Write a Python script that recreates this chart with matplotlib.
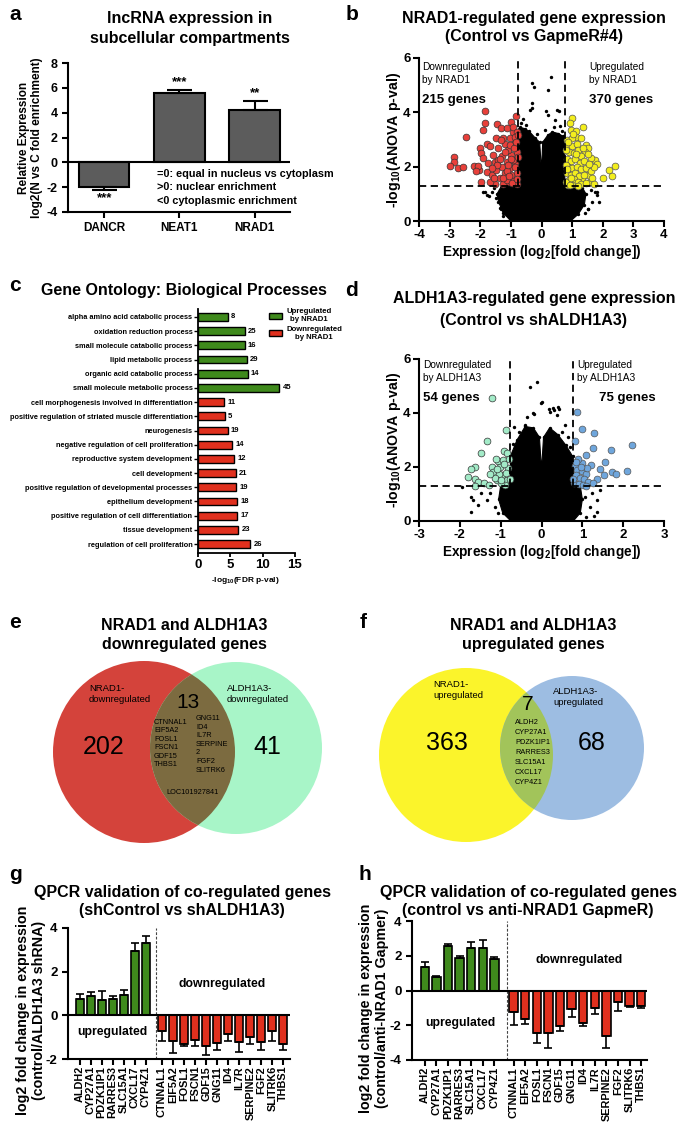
import matplotlib
matplotlib.use('Agg')
import matplotlib.pyplot as plt
from matplotlib.patches import Circle, Patch
import numpy as np

plt.rcParams['font.family'] = ['Liberation Sans', 'DejaVu Sans']
plt.rcParams['mathtext.fontset'] = 'custom'
plt.rcParams['mathtext.rm'] = 'Liberation Sans:bold'
plt.rcParams['mathtext.bf'] = 'Liberation Sans:bold'
plt.rcParams['mathtext.default'] = 'rm'

# ---------------- DATA ----------------
# panel a
a_genes = ['DANCR', 'NEAT1', 'NRAD1']
a_vals = [-2.0, 5.6, 4.25]
a_err = [0.22, 0.25, 0.7]
a_stars = ['***', '***', '**']

# panel b (NRAD1 volcano)
b_down_x = [-1.85, -1.85, -1.90, -2.48, -2.86, -2.86, -2.99, -2.72, -2.55, -2.19, -2.01, -1.96, -1.90, -2.04,
            -1.96, -1.79, -1.68, -1.44, -1.32, -1.14, -0.98, -0.84, -0.92, -1.25, -1.47, -1.74, -1.79, -1.63,
            -2.07, -2.15, -1.52, -1.41, -1.28, -1.19, -1.03, -0.87, -0.81, -0.98, -1.14, -1.30, -1.47, -1.36,
            -1.19, -1.03, -0.87, -0.81, -0.92, -1.08, -1.25, -1.52, -1.68, -0.81, -0.98, -1.14, -1.41, -1.58,
            -1.32, -0.92, -0.79, -1.08, -0.92, -1.25, -1.44, -1.61, -1.03, -0.87, -0.77, -0.85, -1.00, -1.12,
            -0.95, -0.80, -1.20, -1.35, -0.90, -1.05, -0.83, -1.10, -1.55, -0.78]
b_down_y = [4.05, 3.60, 3.35, 3.10, 2.34, 2.18, 2.02, 1.96, 2.00, 2.02, 2.67, 2.49, 2.31, 1.88,
            1.42, 2.82, 2.76, 3.56, 3.41, 3.41, 3.66, 3.88, 3.29, 3.04, 3.04, 2.12, 1.82, 1.69,
            2.04, 1.84, 2.18, 2.67, 2.40, 2.82, 3.07, 2.86, 2.55, 2.43, 2.18, 2.00, 1.88, 1.57,
            1.75, 1.94, 2.12, 1.75, 1.51, 1.42, 1.35, 1.35, 1.42, 1.35, 1.69, 1.51, 2.25, 2.43,
            2.98, 3.47, 3.29, 2.61, 2.25, 1.60, 2.06, 1.94, 2.80, 3.10, 2.37, 2.00, 2.30, 1.85,
            1.40, 1.55, 2.55, 2.30, 2.70, 1.65, 2.90, 2.05, 1.60, 3.15]
b_up_x = [0.99, 0.93, 1.37, 0.96, 1.13, 1.28, 0.82, 1.45, 1.53, 1.42, 1.75, 1.81, 1.61, 2.40, 2.21, 2.29,
          2.00, 1.59, 1.51, 0.86, 1.04, 1.31, 0.85, 1.00, 1.15, 0.90, 1.05, 1.20, 1.30, 0.82, 0.95, 1.10,
          1.25, 1.40, 0.88, 1.00, 1.15, 1.30, 1.45, 0.82, 0.95, 1.10, 1.22, 1.38, 0.90, 1.05, 1.18, 1.30,
          1.45, 0.80, 1.60, 1.70, 1.55, 1.65, 1.12, 0.80, 1.35, 1.52, 0.98, 1.20, 0.92, 1.70, 0.80, 0.88,
          1.02, 1.12, 0.84, 0.96]
b_up_y = [3.80, 3.60, 3.45, 3.35, 3.10, 3.07, 3.00, 2.80, 2.70, 2.55, 2.25, 2.09, 2.31, 2.02, 1.88, 1.66,
          1.57, 1.42, 1.69, 1.33, 1.35, 1.51, 2.80, 2.75, 2.85, 2.55, 2.50, 2.60, 2.40, 2.30, 2.20, 2.30,
          2.15, 2.20, 2.00, 1.95, 2.00, 1.90, 1.95, 1.75, 1.70, 1.75, 1.65, 1.70, 1.50, 1.55, 1.45, 1.35,
          1.40, 1.45, 1.85, 2.00, 2.10, 1.60, 3.30, 2.05, 2.70, 2.45, 3.05, 1.30, 1.32, 1.35, 2.60, 2.90,
          3.20, 2.45, 1.90, 1.60]
b_bg_x = [-0.30, -0.25, 0.32, 0.21, -0.30, -0.30, -0.38, 0.14, 0.52, 0.57, 0.22, -1.86, -1.72, -1.34,
          1.82, 1.87, 1.51, -1.90, -1.79, -1.32, -1.63, 1.75, 1.81, 1.64, 1.53, 1.42, 1.31, 1.20, -1.41,
          -1.25, -1.55, -1.48, 1.60, -0.60, -0.66, 0.45, 0.62, -0.50, -0.15, 0.10, 0.40, 0.68, -0.72]
b_bg_y = [5.08, 4.93, 5.29, 4.83, 4.34, 4.16, 4.09, 4.05, 4.09, 4.05, 3.90, 1.05, 0.92, 0.47,
          1.08, 0.71, 0.43, 1.06, 0.96, 0.44, 1.08, 1.08, 0.96, 0.71, 0.44, 0.28, 1.20, 0.53, 0.71,
          0.20, 1.20, 0.85, 1.15, 3.75, 3.60, 3.70, 3.50, 3.55, 3.20, 3.35, 3.45, 3.30, 3.40]
# envelope of the dense black cloud of non-significant genes (panel b)
b_cloud_x = [-1.00, -1.25, -1.40, -1.45, -1.30, -0.76, -0.76, -0.70, -0.55, -0.40, -0.20, -0.06, 0.00,
             0.04, 0.20, 0.35, 0.55, 0.70, 0.76, 0.76, 1.30, 1.45, 1.40, 1.20, 0.95]
b_cloud_y = [0.00, 0.30, 0.70, 1.00, 1.30, 1.30, 3.20, 3.45, 3.40, 3.30, 3.05, 2.90, 1.85,
             2.90, 3.15, 3.28, 3.22, 3.12, 3.00, 1.30, 1.30, 1.00, 0.60, 0.25, 0.00]

# panel c (gene ontology)
c_terms = ['alpha amino acid catabolic process', 'oxidation reduction process',
           'small molecule catabolic process', 'lipid metabolic process',
           'organic acid catabolic process', 'small molecule metabolic process',
           'cell morphogenesis involved in differentiation',
           'positive regulation of striated muscle differentiation', 'neurogenesis',
           'negative regulation of cell proliferation', 'reproductive system development',
           'cell development', 'positive regulation of developmental processes',
           'epithelium development', 'positive regulation of cell differentiation',
           'tissue development', 'regulation of cell proliferation']
c_vals = [4.6, 7.2, 7.2, 7.5, 7.7, 12.6, 4.0, 4.1, 4.6, 5.3, 5.6, 5.8, 5.9, 6.1, 6.1, 6.2, 8.1]
c_counts = [8, 25, 16, 29, 14, 45, 11, 5, 19, 14, 12, 21, 19, 18, 17, 23, 26]
c_dir = ['up'] * 6 + ['down'] * 11

# panel d (ALDH1A3 volcano)
d_down_x = [-1.21, -0.88, -1.33, -1.49, -1.07, -0.92, -0.85, -1.63, -1.73, -1.79, -1.64, -1.55, -1.64, -1.42,
            -1.29, -1.22, -1.18, -1.02, -0.96, -0.85, -0.81, -1.10, -0.89, -1.05, -1.15, -0.95, -0.80,
            -1.12, -0.98, -0.86, -1.25, -0.92, -1.00, -0.78, -1.08]
d_down_y = [4.56, 3.37, 2.96, 2.53, 2.22, 2.60, 2.50, 2.01, 1.91, 1.64, 1.56, 1.46, 1.30, 1.42,
            1.33, 2.01, 1.83, 2.01, 1.70, 1.52, 1.95, 1.52, 1.33, 1.75, 1.60, 2.25, 2.30,
            2.30, 1.40, 1.78, 1.75, 2.10, 1.50, 1.55, 1.92]
d_up_x = [0.88, 0.98, 1.29, 0.82, 1.27, 1.70, 2.21, 1.09, 1.55, 1.43, 1.72, 1.82, 2.09, 1.54, 1.35, 1.20,
          0.98, 0.90, 0.82, 0.88, 1.00, 1.10, 0.85, 0.95, 1.05, 1.15, 0.80, 0.92, 1.02, 1.12, 0.84, 0.96,
          1.25, 1.08, 0.78]
d_up_y = [4.05, 3.40, 3.27, 2.96, 2.69, 2.63, 2.81, 2.44, 2.20, 1.93, 1.83, 1.74, 1.86, 1.70, 1.56, 2.07,
          2.14, 2.28, 2.05, 1.90, 1.85, 1.75, 1.70, 1.60, 1.55, 1.45, 1.40, 1.38, 1.35, 1.95, 2.20, 2.00,
          1.40, 1.30, 1.55]
d_bg_x = [-0.11, -0.29, 0.00, 0.18, 0.30, 0.42, -0.19, -0.35, -0.68, -0.22, -0.01, 0.21, 0.29, 0.41,
          0.37, -0.40, 0.66, 0.58, -1.94, -1.73, -1.67, -1.73, -1.47, -1.34, -1.14, -1.06, 1.23, 1.35,
          1.35, 1.19, 1.10, 1.07, 1.43, 1.28, -1.55, -1.25, -0.55, 0.50, -0.70, 0.70]
d_bg_y = [5.14, 4.98, 4.40, 4.16, 4.10, 4.16, 3.97, 3.85, 3.48, 3.99, 4.36, 4.05, 4.17, 4.21,
          3.93, 3.56, 3.12, 3.56, 1.27, 0.90, 0.78, 0.35, 1.02, 0.78, 0.53, 0.28, 1.02, 0.78,
          0.35, 0.53, 0.16, 0.90, 1.15, 0.20, 0.60, 1.05, 3.30, 3.30, 2.85, 2.75]
d_cloud_x = [-0.75, -0.95, -1.05, -1.00, -0.76, -0.76, -0.60, -0.40, -0.20, -0.05, 0.00, 0.05, 0.20,
             0.40, 0.60, 0.76, 0.76, 0.95, 1.00, 0.95, 0.78]
d_cloud_y = [0.00, 0.30, 0.80, 1.30, 1.30, 2.40, 3.00, 3.50, 3.45, 3.10, 1.90, 3.10, 3.45,
             3.20, 2.80, 2.40, 1.30, 1.30, 0.80, 0.30, 0.00]

# panel e / f venn counts
e_counts = [202, 13, 41]
e_labels = ['NRAD1-\ndownregulated', 'ALDH1A3-\ndownregulated']
e_genes_left = ['CTNNAL1', 'EIF5A2', 'FOSL1', 'FSCN1', 'GDF15', 'THBS1']
e_genes_right = ['GNG11', 'ID4', 'IL7R', 'SERPINE', '2', 'FGF2', 'SLITRK6']
e_gene_extra = 'LOC101927841'
f_counts = [363, 7, 68]
f_labels = ['NRAD1-\nupregulated', 'ALDH1A3-\nupregulated']
f_genes = ['ALDH2', 'CYP27A1', 'PDZK1IP1', 'RARRES3', 'SLC15A1', 'CXCL17', 'CYP4Z1']

# panels g / h (QPCR)
up_genes = ['ALDH2', 'CYP27A1', 'PDZK1IP1', 'RARRES3', 'SLC15A1', 'CXCL17', 'CYP4Z1']
down_genes = ['CTNNAL1', 'EIF5A2', 'FOSL1', 'FSCN1', 'GDF15', 'GNG11', 'ID4', 'IL7R',
              'SERPINE2', 'FGF2', 'SLITRK6', 'THBS1']
g_up = [0.75, 0.90, 0.72, 0.75, 0.93, 2.95, 3.31]
g_up_err = [0.23, 0.17, 0.41, 0.12, 0.25, 0.36, 0.31]
g_down = [-0.70, -1.19, -1.30, -1.15, -1.42, -1.27, -0.84, -1.24, -1.00, -1.24, -0.73, -1.31]
g_down_err = [0.49, 0.54, 0.12, 0.27, 0.38, 0.30, 0.35, 0.44, 0.30, 0.33, 0.46, 0.26]
h_up = [1.35, 0.77, 2.58, 1.88, 2.44, 2.44, 1.79]
h_up_err = [0.28, 0.06, 0.11, 0.12, 0.33, 0.48, 0.13]
h_down = [-1.25, -1.63, -2.44, -2.44, -2.06, -1.06, -1.87, -1.02, -2.63, -0.67, -0.87, -0.90]
h_down_err = [0.73, 0.29, 0.60, 0.87, 0.29, 0.48, 0.15, 0.33, 0.68, 0.52, 0.09, 0.10]

# ---------------- STYLE ----------------
W, H = 685, 1125
fig = plt.figure(figsize=(6.85, 11.25), dpi=100)
GREEN = '#3f8a1c'
RED = '#e0301e'
TFS = 11.5  # title font size


def rect(l, t, r, b):
    return [l / W, 1 - b / H, (r - l) / W, (b - t) / H]


def T(x, y, s, **kw):
    kw.setdefault('ha', 'center')
    kw.setdefault('va', 'center')
    return fig.text(x / W, 1 - y / H, s, **kw)


def style(ax, lw=1.5, length=4):
    for s in ['top', 'right']:
        ax.spines[s].set_visible(False)
    for s in ['left', 'bottom']:
        ax.spines[s].set_linewidth(lw)
    ax.tick_params(width=lw, length=length, direction='out')


# overlay axes for the venn diagrams
ov = fig.add_axes([0, 0, 1, 1])
ov.set_xlim(0, W)
ov.set_ylim(H, 0)
ov.axis('off')

# ---------------- PANEL A ----------------
T(15, 14, 'a', fontsize=15, fontweight='bold')
T(190, 18, 'lncRNA expression in', fontsize=TFS, fontweight='bold')
T(190, 38, 'subcellular compartments', fontsize=TFS, fontweight='bold')
ax = fig.add_axes(rect(68, 63, 290, 212))
xa = np.arange(len(a_genes))
ax.bar(xa, a_vals, width=0.67, color='#5c5c5c', edgecolor='black', lw=1.5, zorder=2)
lo = [e if v < 0 else 0 for v, e in zip(a_vals, a_err)]
hi = [e if v >= 0 else 0 for v, e in zip(a_vals, a_err)]
ax.errorbar(xa, a_vals, yerr=[lo, hi], fmt='none', ecolor='black', elinewidth=1.5, capsize=9,
            capthick=1.5, zorder=3)
ax.axhline(0, color='black', lw=1.5, zorder=4)
ax.set_xlim(-0.48, 2.47)
ax.set_ylim(-4, 8)
style(ax)
ax.set_yticks(range(-4, 9, 2), [str(v) for v in range(-4, 9, 2)], fontsize=9, fontweight='bold')
ax.set_xticks(xa, a_genes, fontsize=8.5, fontweight='bold')
for i, (v, e, s) in enumerate(zip(a_vals, a_err, a_stars)):
    if v >= 0:
        ax.text(i, v + e + 0.15, s, ha='center', va='bottom', fontsize=9.5, fontweight='bold')
    else:
        ax.text(i, v - e - 0.2, s, ha='center', va='top', fontsize=9.5, fontweight='bold')
T(24, 138, 'Relative Expression', rotation=90, fontsize=8.5, fontweight='bold')
T(37, 138, 'log2(N vs C fold enrichment)', rotation=90, fontsize=8.5, fontweight='bold')
T(157, 174, '=0: equal in nucleus vs cytoplasm', ha='left', fontsize=7.8, fontweight='bold')
T(157, 187.5, '>0: nuclear enrichment', ha='left', fontsize=7.8, fontweight='bold')
T(157, 201, '<0 cytoplasmic enrichment', ha='left', fontsize=7.8, fontweight='bold')


# ---------------- VOLCANO helper ----------------
def volcano(ax, cx, cy, bgx, bgy, dx, dy, ux, uy, dcol, ucol, xlim, xt):
    ax.fill(cx, cy, color='black', lw=0.8, ec='black', zorder=2)
    ax.scatter(bgx, bgy, s=6, color='black', lw=0, zorder=2)
    ax.scatter(cx, cy, s=6, color='black', lw=0, zorder=2)
    ax.scatter(dx, dy, s=24, color=dcol, edgecolor='#333333', lw=0.5, zorder=3)
    ax.scatter(ux, uy, s=24, color=ucol, edgecolor='#555555', lw=0.5, zorder=3)
    ax.axvline(-0.76, color='black', lw=1.3, ls=(0, (4, 2.5)), zorder=4)
    ax.axvline(0.76, color='black', lw=1.3, ls=(0, (4, 2.5)), zorder=4)
    ax.axhline(1.3, color='black', lw=1.3, ls=(0, (4, 2.5)), zorder=4)
    ax.set_xlim(*xlim)
    ax.set_ylim(0, 6)
    style(ax)
    ax.set_xticks(xt, [str(v) for v in xt], fontsize=9.5, fontweight='bold')
    ax.set_yticks([0, 2, 4, 6], ['0', '2', '4', '6'], fontsize=9.5, fontweight='bold')
    ax.tick_params(pad=2)
    ax.set_xlabel('Expression (log$_{2}$[fold change])', fontsize=9.8, fontweight='bold', labelpad=1)
    ax.set_ylabel('-log$_{10}$(ANOVA p-val)', fontsize=10.2, fontweight='bold', labelpad=0)


# ---------------- PANEL B ----------------
T(352, 15, 'b', fontsize=15, fontweight='bold')
T(534, 18, 'NRAD1-regulated gene expression', fontsize=TFS, fontweight='bold')
T(534, 37, '(Control vs GapmeR#4)', fontsize=TFS, fontweight='bold')
ax = fig.add_axes(rect(419, 58, 664, 221))
volcano(ax, b_cloud_x, b_cloud_y, b_bg_x, b_bg_y, b_down_x, b_down_y, b_up_x, b_up_y,
        '#e8403a', '#f3ee1d', (-4, 4), list(range(-4, 5)))
T(422, 67, 'Downregulated', ha='left', fontsize=7.3)
T(422, 80, 'by NRAD1', ha='left', fontsize=7.3)
T(422, 100, '215 genes', ha='left', fontsize=9.5, fontweight='bold')
T(589, 67, 'Upregulated', ha='left', fontsize=7.3)
T(589, 80, 'by NRAD1', ha='left', fontsize=7.3)
T(589, 100, '370 genes', ha='left', fontsize=9.5, fontweight='bold')

# ---------------- PANEL C ----------------
T(15, 285, 'c', fontsize=15, fontweight='bold')
T(184, 291, 'Gene Ontology: Biological Processes', fontsize=TFS, fontweight='bold')
ax = fig.add_axes(rect(198, 309, 295, 553))
yc = np.arange(len(c_terms))
cols = [GREEN if d == 'up' else RED for d in c_dir]
ax.barh(yc, c_vals, height=0.55, color=cols, edgecolor='black', lw=1.0, zorder=2)
for yy, v, n in zip(yc, c_vals, c_counts):
    ax.text(v + 0.5, yy, str(n), va='center', ha='left', fontsize=5.5, fontweight='bold')
ax.set_ylim(16.63, -0.56)
ax.set_xlim(0, 15)
style(ax, lw=1.3, length=3)
ax.set_yticks(yc, c_terms, fontsize=5.3, fontweight='bold')
ax.tick_params(axis='y', pad=1, length=3, width=1)
ax.set_xticks([0, 5, 10, 15], ['0', '5', '10', '15'], fontsize=9.5, fontweight='bold')
ax.tick_params(axis='x', pad=1)
T(245, 581, '-log$_{10}$(FDR p-val)', fontsize=6, fontweight='bold')
leg = ax.legend(handles=[Patch(facecolor=GREEN, edgecolor='black', lw=1.0, label='Upregulated\nby NRAD1'),
                         Patch(facecolor=RED, edgecolor='black', lw=1.0, label='Downregulated\nby NRAD1')],
                loc='upper left', bbox_to_anchor=(0.70, 1.015), frameon=False,
                prop={'size': 5.6, 'weight': 'bold'}, handlelength=1.7, handleheight=0.9,
                handletextpad=0.5, labelspacing=0.3, borderaxespad=0)
for t in leg.get_texts():
    t.set_multialignment('center')

# ---------------- PANEL D ----------------
T(352, 290, 'd', fontsize=15, fontweight='bold')
T(534, 299, 'ALDH1A3-regulated gene expression', fontsize=TFS, fontweight='bold')
T(534, 321, '(Control vs shALDH1A3)', fontsize=TFS, fontweight='bold')
ax = fig.add_axes(rect(419, 359, 664, 521))
volcano(ax, d_cloud_x, d_cloud_y, d_bg_x, d_bg_y, d_down_x, d_down_y, d_up_x, d_up_y,
        '#a3ebc8', '#6fa6dc', (-3, 3), list(range(-3, 4)))
T(423, 365, 'Downregulated', ha='left', fontsize=7.3)
T(423, 378, 'by ALDH1A3', ha='left', fontsize=7.3)
T(423, 398, '54 genes', ha='left', fontsize=9.5, fontweight='bold')
T(577, 365, 'Upregulated', ha='left', fontsize=7.3)
T(577, 378, 'by ALDH1A3', ha='left', fontsize=7.3)
T(599, 398, '75 genes', ha='left', fontsize=9.5, fontweight='bold')

# ---------------- PANEL E ----------------
T(15, 623, 'e', fontsize=15, fontweight='bold')
T(184, 625, 'NRAD1 and ALDH1A3', fontsize=TFS, fontweight='bold')
T(184, 644, 'downregulated genes', fontsize=TFS, fontweight='bold')
c1 = Circle((144, 752), 91, color='#d4433b', lw=0)
c2 = Circle((236, 748), 86, color='#a8f5c8', lw=0)
ov.add_patch(c1)
ov.add_patch(c2)
c3 = Circle((236, 748), 86, color='#7c6b40', lw=0)
ov.add_patch(c3)
c3.set_clip_path(c1)
ov.text(104, 747, str(e_counts[0]), fontsize=18, ha='center', va='center')
ov.text(188, 702, str(e_counts[1]), fontsize=15, ha='center', va='center')
ov.text(267, 747, str(e_counts[2]), fontsize=18, ha='center', va='center')
ov.text(89, 694, e_labels[0], fontsize=6.8, ha='left', va='center', linespacing=1.3)
ov.text(227, 694, e_labels[1], fontsize=6.8, ha='left', va='center', linespacing=1.3)
for i, g in enumerate(e_genes_left):
    ov.text(154, 722 + i * 8.6, g, fontsize=5.3, ha='left', va='center')
for i, g in enumerate(e_genes_right):
    ov.text(196, 718.5 + i * 8.6, g, fontsize=5.3, ha='left', va='center')
ov.text(193, 793, e_gene_extra, fontsize=5.3, ha='center', va='center')

# ---------------- PANEL F ----------------
T(363, 623, 'f', fontsize=15, fontweight='bold')
T(533, 625, 'NRAD1 and ALDH1A3', fontsize=TFS, fontweight='bold')
T(533, 644, 'upregulated genes', fontsize=TFS, fontweight='bold')
f1 = Circle((466, 755), 87, color='#fbf42b', lw=0)
f2 = Circle((572, 748), 72, color='#9dbde2', lw=0)
ov.add_patch(f1)
ov.add_patch(f2)
f3 = Circle((572, 748), 72, color='#a2c45a', lw=0)
ov.add_patch(f3)
f3.set_clip_path(f1)
ov.text(447, 743, str(f_counts[0]), fontsize=18, ha='center', va='center')
ov.text(528, 705, str(f_counts[1]), fontsize=15, ha='center', va='center')
ov.text(592, 743, str(f_counts[2]), fontsize=18, ha='center', va='center')
ov.text(433, 690, f_labels[0], fontsize=6.8, ha='left', va='center', linespacing=1.3)
ov.text(553, 697, f_labels[1], fontsize=6.8, ha='left', va='center', linespacing=1.3)
for i, g in enumerate(f_genes):
    ov.text(515, 723 + i * 10, g, fontsize=5.3, ha='left', va='center')


# ---------------- QPCR helper ----------------
def qpcr(ax, up, uperr, dn, dnerr, gap, dash, xlim, ylim, yt):
    pos_up = np.arange(len(up_genes))
    pos_dn = np.arange(len(down_genes)) + len(up_genes) + gap
    ax.bar(pos_up, up, width=0.72, color=GREEN, edgecolor='black', lw=1.2, zorder=2)
    ax.bar(pos_dn, dn, width=0.72, color=RED, edgecolor='black', lw=1.2, zorder=2)
    ax.errorbar(pos_up, up, yerr=[np.zeros(len(up)), uperr], fmt='none', ecolor='black',
                elinewidth=1.2, capsize=3, capthick=1.2, zorder=3)
    ax.errorbar(pos_dn, dn, yerr=[dnerr, np.zeros(len(dn))], fmt='none', ecolor='black',
                elinewidth=1.2, capsize=3, capthick=1.2, zorder=3)
    ax.axhline(0, color='black', lw=1.5, zorder=4)
    ax.axvline(dash, color='#444444', lw=0.8, ls=(0, (2.5, 1.5)), zorder=1)
    ax.set_xlim(*xlim)
    ax.set_ylim(*ylim)
    style(ax)
    ax.set_yticks(yt, [str(v) for v in yt], fontsize=9.5, fontweight='bold')
    ax.set_xticks(np.r_[pos_up, pos_dn], up_genes + down_genes, rotation=90, fontsize=7.8,
                  fontweight='bold')
    ax.tick_params(axis='x', pad=1)


# ---------------- PANEL G ----------------
T(15, 875, 'g', fontsize=15, fontweight='bold')
T(182, 892, 'QPCR validation of co-regulated genes', fontsize=TFS, fontweight='bold')
T(182, 910, '(shControl vs shALDH1A3)', fontsize=TFS, fontweight='bold')
ax = fig.add_axes(rect(68, 928, 290, 1059))
qpcr(ax, g_up, g_up_err, g_down, g_down_err, 0.45, 6.96, (-1.05, 19.05), (-2, 4), [-2, 0, 2, 4])
ax.text(3.0, -0.75, 'upregulated', ha='center', va='center', fontsize=8.8, fontweight='bold')
ax.text(12.9, 1.45, 'downregulated', ha='center', va='center', fontsize=8.8, fontweight='bold')
T(23, 1010, 'log2 fold change in expression', rotation=90, fontsize=10.3, fontweight='bold')
T(39, 1010, '(control/ALDH1A3 shRNA)', rotation=90, fontsize=10.3, fontweight='bold')

# ---------------- PANEL H ----------------
T(365, 875, 'h', fontsize=15, fontweight='bold')
T(528, 893, 'QPCR validation of co-regulated genes', fontsize=TFS, fontweight='bold')
T(528, 910, '(control vs anti-NRAD1 GapmeR)', fontsize=TFS, fontweight='bold')
ax = fig.add_axes(rect(412, 921, 647, 1060))
qpcr(ax, h_up, h_up_err, h_down, h_down_err, 0.65, 7.07, (-1.1, 19.15), (-4, 4), [-4, -2, 0, 2, 4])
ax.text(3.1, -1.85, 'upregulated', ha='center', va='center', fontsize=8.8, fontweight='bold')
ax.text(13.3, 1.75, 'downregulated', ha='center', va='center', fontsize=8.8, fontweight='bold')
T(366, 1008, 'log2 fold change in expression', rotation=90, fontsize=10.3, fontweight='bold')
T(382, 1008, '(control/anti-NRAD1 Gapmer)', rotation=90, fontsize=10.3, fontweight='bold')

fig.savefig('out.png', dpi=100)
